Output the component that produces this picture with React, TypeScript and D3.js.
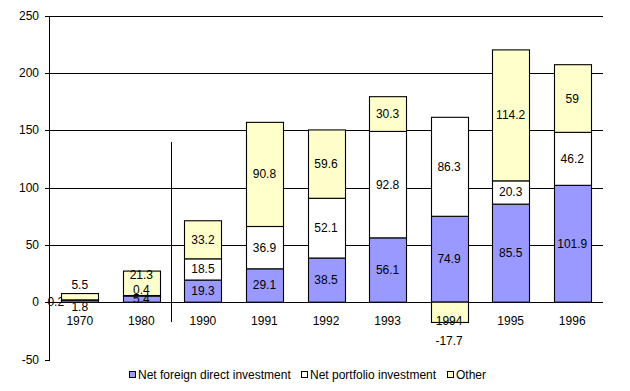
import React, { useEffect, useRef } from 'react';
import * as d3 from 'd3';

const years = ['1970', '1980', '1990', '1991', '1992', '1993', '1994', '1995', '1996'];
const fdi = [1.8, 5.4, 19.3, 29.1, 38.5, 56.1, 74.9, 85.5, 101.9];
const portfolio = [0.2, 0.4, 18.5, 36.9, 52.1, 92.8, 86.3, 20.3, 46.2];
const other = [5.5, 21.3, 33.2, 90.8, 59.6, 30.3, -17.7, 114.2, 59];
const seriesNames = ['Net foreign direct investment', 'Net portfolio investment', 'Other'];
const seriesColors = ['#9999ff', '#ffffff', '#ffffcc'];
const yTicks = [-50, 0, 50, 100, 150, 200, 250];

// hand-moved labels in the original (dx, dy in px)
const labelNudge: Record<string, [number, number]> = {
  '1970-0': [0, 6],
  '1970-1': [-24, 2],
  '1970-2': [0, -12],
  '1980-1': [0, -6],
  '1980-2': [0, -8],
  '1994-2': [0, 29],
};

const App: React.FC = () => {
  const svgRef = useRef<SVGSVGElement>(null);

  useEffect(() => {
    if (!svgRef.current) return;
    d3.select(svgRef.current).selectAll('*').remove();

    const width = 630;
    const height = 391;
    const left = 49;
    const right = 603;
    const font = '"Liberation Sans", Arial, sans-serif';

    const svg = d3.select(svgRef.current)
      .attr('width', width)
      .attr('height', height)
      .style('font-family', font)
      .style('font-size', '12px');

    svg.append('rect').attr('width', width).attr('height', height).attr('fill', '#fff');

    const x = d3.scaleBand<string>()
      .domain(years)
      .range([left, right])
      .paddingInner(0.4)
      .paddingOuter(0.2);

    const y = d3.scaleLinear().domain([-50, 250]).range([359.5, 15.5]);

    // gridlines
    svg.append('g')
      .selectAll('line')
      .data(yTicks.filter(t => t !== -50))
      .join('line')
      .attr('x1', left)
      .attr('x2', right)
      .attr('y1', d => Math.round(y(d)) + 0.5)
      .attr('y2', d => Math.round(y(d)) + 0.5)
      .attr('stroke', '#000')
      .attr('shape-rendering', 'crispEdges');

    // y axis
    svg.append('line')
      .attr('x1', left + 0.5).attr('x2', left + 0.5)
      .attr('y1', Math.round(y(250))).attr('y2', Math.round(y(-50)) + 1)
      .attr('stroke', '#000')
      .attr('shape-rendering', 'crispEdges');

    const tick = svg.append('g').selectAll('g').data(yTicks).join('g');
    tick.append('line')
      .attr('x1', left - 4).attr('x2', left)
      .attr('y1', d => Math.round(y(d)) + 0.5)
      .attr('y2', d => Math.round(y(d)) + 0.5)
      .attr('stroke', '#000')
      .attr('shape-rendering', 'crispEdges');
    tick.append('text')
      .attr('x', 39)
      .attr('y', d => y(d) + 4)
      .attr('text-anchor', 'end')
      .text(d => d);

    // separator between decades and yearly figures
    const step = x.step();
    const sepX = Math.round((x('1990') as number) - (step - x.bandwidth()) / 2) - 0.5;
    svg.append('line')
      .attr('x1', sepX).attr('x2', sepX)
      .attr('y1', y(139.5)).attr('y2', y(-17))
      .attr('stroke', '#000')
      .attr('shape-rendering', 'crispEdges');

    const nudge = (k: string) => labelNudge[k] ?? [0, 0];

    // stacked segments
    const values = [fdi, portfolio, other];
    const segments: { year: string; s: number; v: number; y0: number; y1: number }[] = [];
    years.forEach((yr, i) => {
      let pos = 0;
      let neg = 0;
      values.forEach((arr, s) => {
        const v = arr[i];
        if (v >= 0) {
          segments.push({ year: yr, s, v, y0: pos, y1: pos + v });
          pos += v;
        } else {
          segments.push({ year: yr, s, v, y0: neg + v, y1: neg });
          neg += v;
        }
      });
    });

    const labelX = (d: { year: string; s: number }) =>
      (x(d.year) as number) + x.bandwidth() / 2 + nudge(`${d.year}-${d.s}`)[0];
    const labelY = (d: { year: string; s: number; y0: number; y1: number }) =>
      (y(d.y0) + y(d.y1)) / 2 + 4 + nudge(`${d.year}-${d.s}`)[1];

    // 1970's portfolio label sits behind the bars in the original
    const behind = segments.filter(d => d.year === '1970' && d.s === 1);
    svg.append('g')
      .selectAll('text')
      .data(behind)
      .join('text')
      .attr('x', labelX)
      .attr('y', labelY)
      .attr('text-anchor', 'middle')
      .text(d => String(d.v));

    svg.append('g')
      .selectAll('rect')
      .data(segments)
      .join('rect')
      .attr('x', d => Math.round(x(d.year) as number) + 0.5)
      .attr('width', Math.round(x.bandwidth()))
      .attr('y', d => y(d.y1))
      .attr('height', d => Math.max(0.01, y(d.y0) - y(d.y1)))
      .attr('fill', d => seriesColors[d.s])
      .attr('stroke', '#000')
      .attr('stroke-width', 1.1);

    // category labels
    svg.append('g')
      .selectAll('text')
      .data(years)
      .join('text')
      .attr('x', d => (x(d) as number) + x.bandwidth() / 2)
      .attr('y', y(0) + 23)
      .attr('text-anchor', 'middle')
      .text(d => d);

    // value labels
    svg.append('g')
      .selectAll('text')
      .data(segments.filter(d => !behind.includes(d)))
      .join('text')
      .attr('x', labelX)
      .attr('y', labelY)
      .attr('text-anchor', 'middle')
      .text(d => String(d.v));

    // legend
    const legendX = [129, 301, 447];
    const legend = svg.append('g')
      .selectAll('g')
      .data(seriesNames)
      .join('g')
      .attr('transform', (d, i) => `translate(${legendX[i]},371)`);
    legend.append('rect')
      .attr('x', 0.5).attr('y', 0.5)
      .attr('width', 6).attr('height', 6)
      .attr('fill', (d, i) => seriesColors[i])
      .attr('stroke', '#000');
    legend.append('text')
      .attr('x', 9)
      .attr('y', 8)
      .text(d => d);
  }, []);

  return (
    <div style={{ position: 'absolute', left: 0, top: 0, width: 630, height: 391 }}>
      <svg ref={svgRef} style={{ display: 'block' }} />
    </div>
  );
};

export default App;
